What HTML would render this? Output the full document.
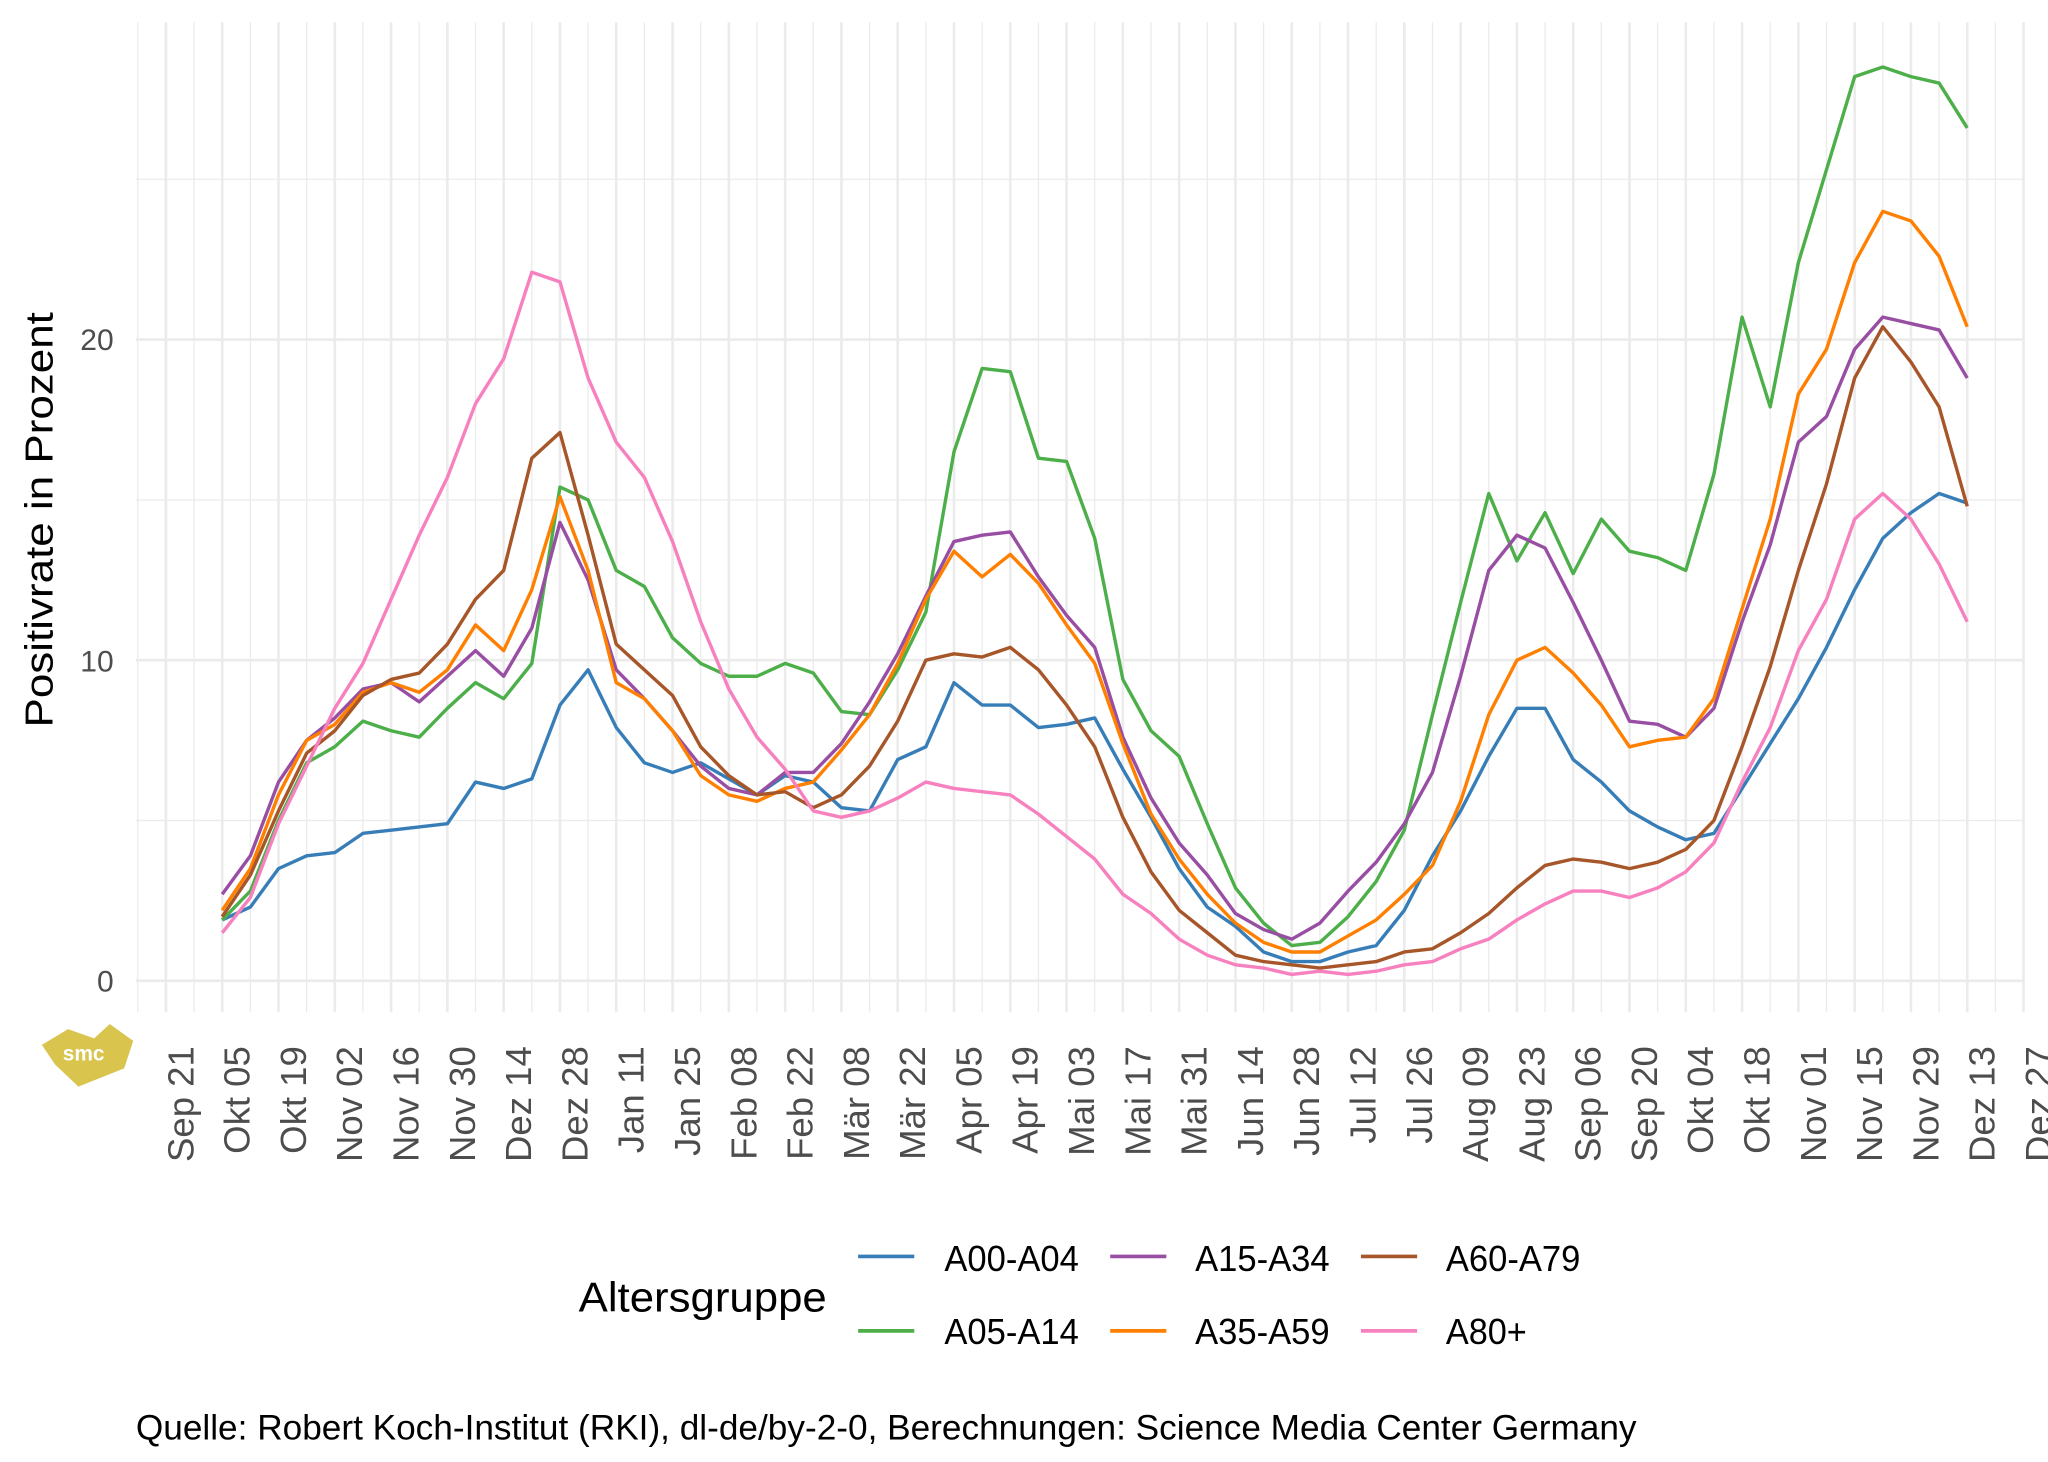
<!DOCTYPE html>
<html><head><meta charset="utf-8"><style>html,body{margin:0;padding:0;background:#fff}svg{display:block}</style></head>
<body>
<svg xmlns="http://www.w3.org/2000/svg" width="2048" height="1462" viewBox="0 0 1568 1119.4" font-family="Liberation Sans, sans-serif">
<rect width="1568" height="1119.4" fill="#fff"/>
<g stroke="#ebebeb">
<g stroke-width="1">
<line x1="104" y1="628.25" x2="1550" y2="628.25"/><line x1="104" y1="382.75" x2="1550" y2="382.75"/><line x1="104" y1="137.25" x2="1550" y2="137.25"/>
</g>
<g stroke-width="2">
<line x1="104" y1="751" x2="1550" y2="751"/><line x1="104" y1="505.5" x2="1550" y2="505.5"/><line x1="104" y1="260" x2="1550" y2="260"/>
</g>
<g transform="translate(127,0) scale(21.55,1)" stroke-width="1.3">
<path vector-effect="non-scaling-stroke" d="M-1,17V775M1,17V775M3,17V775M5,17V775M7,17V775M9,17V775M11,17V775M13,17V775M15,17V775M17,17V775M19,17V775M21,17V775M23,17V775M25,17V775M27,17V775M29,17V775M31,17V775M33,17V775M35,17V775M37,17V775M39,17V775M41,17V775M43,17V775M45,17V775M47,17V775M49,17V775M51,17V775M53,17V775M55,17V775M57,17V775M59,17V775M61,17V775M63,17V775M65,17V775"/>
</g>
<g transform="translate(127,0) scale(21.55,1)" stroke-width="2.6">
<path vector-effect="non-scaling-stroke" d="M0,17V775M2,17V775M4,17V775M6,17V775M8,17V775M10,17V775M12,17V775M14,17V775M16,17V775M18,17V775M20,17V775M22,17V775M24,17V775M26,17V775M28,17V775M30,17V775M32,17V775M34,17V775M36,17V775M38,17V775M40,17V775M42,17V775M44,17V775M46,17V775M48,17V775M50,17V775M52,17V775M54,17V775M56,17V775M58,17V775M60,17V775M62,17V775M64,17V775M66,17V775"/>
</g>
</g>
<g transform="translate(170.1,751) scale(21.55,-24.55)" fill="none" stroke-width="3.4" stroke-linejoin="round">
<polyline vector-effect="non-scaling-stroke" stroke="#377EB8" points="0,1.9 1,2.3 2,3.5 3,3.9 4,4.0 5,4.6 6,4.7 7,4.8 8,4.9 9,6.2 10,6.0 11,6.3 12,8.6 13,9.7 14,7.9 15,6.8 16,6.5 17,6.8 18,6.3 19,5.8 20,6.4 21,6.2 22,5.4 23,5.3 24,6.9 25,7.3 26,9.3 27,8.6 28,8.6 29,7.9 30,8.0 31,8.2 32,6.6 33,5.1 34,3.5 35,2.3 36,1.7 37,0.9 38,0.6 39,0.6 40,0.9 41,1.1 42,2.2 43,3.9 44,5.3 45,7.0 46,8.5 47,8.5 48,6.9 49,6.2 50,5.3 51,4.8 52,4.4 53,4.6 54,6.0 55,7.4 56,8.8 57,10.4 58,12.2 59,13.8 60,14.6 61,15.2 62,14.9"/>
<polyline vector-effect="non-scaling-stroke" stroke="#4DAF4A" points="0,1.9 1,2.8 2,5.0 3,6.8 4,7.3 5,8.1 6,7.8 7,7.6 8,8.5 9,9.3 10,8.8 11,9.9 12,15.4 13,15.0 14,12.8 15,12.3 16,10.7 17,9.9 18,9.5 19,9.5 20,9.9 21,9.6 22,8.4 23,8.3 24,9.7 25,11.5 26,16.5 27,19.1 28,19.0 29,16.3 30,16.2 31,13.8 32,9.4 33,7.8 34,7.0 35,4.9 36,2.9 37,1.8 38,1.1 39,1.2 40,2.0 41,3.1 42,4.7 43,8.3 44,11.8 45,15.2 46,13.1 47,14.6 48,12.7 49,14.4 50,13.4 51,13.2 52,12.8 53,15.8 54,20.7 55,17.9 56,22.4 57,25.3 58,28.2 59,28.5 60,28.2 61,28.0 62,26.6"/>
<polyline vector-effect="non-scaling-stroke" stroke="#984EA3" points="0,2.7 1,3.9 2,6.2 3,7.5 4,8.2 5,9.1 6,9.3 7,8.7 8,9.5 9,10.3 10,9.5 11,11.0 12,14.3 13,12.5 14,9.7 15,8.8 16,7.8 17,6.7 18,6.0 19,5.8 20,6.5 21,6.5 22,7.4 23,8.7 24,10.2 25,12.0 26,13.7 27,13.9 28,14.0 29,12.6 30,11.4 31,10.4 32,7.6 33,5.7 34,4.3 35,3.3 36,2.1 37,1.6 38,1.3 39,1.8 40,2.8 41,3.7 42,4.9 43,6.5 44,9.5 45,12.8 46,13.9 47,13.5 48,11.8 49,10.0 50,8.1 51,8.0 52,7.6 53,8.5 54,11.2 55,13.6 56,16.8 57,17.6 58,19.7 59,20.7 60,20.5 61,20.3 62,18.8"/>
<polyline vector-effect="non-scaling-stroke" stroke="#FF7F00" points="0,2.2 1,3.5 2,5.8 3,7.5 4,8.0 5,9.0 6,9.3 7,9.0 8,9.7 9,11.1 10,10.3 11,12.2 12,15.1 13,12.8 14,9.3 15,8.8 16,7.8 17,6.4 18,5.8 19,5.6 20,6.0 21,6.2 22,7.2 23,8.3 24,9.9 25,11.9 26,13.4 27,12.6 28,13.3 29,12.4 30,11.1 31,9.9 32,7.4 33,5.2 34,3.8 35,2.7 36,1.8 37,1.2 38,0.9 39,0.9 40,1.4 41,1.9 42,2.7 43,3.6 44,5.6 45,8.3 46,10.0 47,10.4 48,9.6 49,8.6 50,7.3 51,7.5 52,7.6 53,8.8 54,11.6 55,14.4 56,18.3 57,19.7 58,22.4 59,24.0 60,23.7 61,22.6 62,20.4"/>
<polyline vector-effect="non-scaling-stroke" stroke="#A65628" points="0,2.0 1,3.3 2,5.3 3,7.1 4,7.8 5,8.9 6,9.4 7,9.6 8,10.5 9,11.9 10,12.8 11,16.3 12,17.1 13,13.9 14,10.5 15,9.7 16,8.9 17,7.3 18,6.4 19,5.8 20,5.9 21,5.4 22,5.8 23,6.7 24,8.1 25,10.0 26,10.2 27,10.1 28,10.4 29,9.7 30,8.6 31,7.3 32,5.1 33,3.4 34,2.2 35,1.5 36,0.8 37,0.6 38,0.5 39,0.4 40,0.5 41,0.6 42,0.9 43,1.0 44,1.5 45,2.1 46,2.9 47,3.6 48,3.8 49,3.7 50,3.5 51,3.7 52,4.1 53,5.0 54,7.3 55,9.8 56,12.8 57,15.5 58,18.8 59,20.4 60,19.3 61,17.9 62,14.8"/>
<polyline vector-effect="non-scaling-stroke" stroke="#F781BF" points="0,1.5 1,2.6 2,4.9 3,6.7 4,8.5 5,9.9 6,11.9 7,13.9 8,15.7 9,18.0 10,19.4 11,22.1 12,21.8 13,18.8 14,16.8 15,15.7 16,13.7 17,11.2 18,9.1 19,7.6 20,6.6 21,5.3 22,5.1 23,5.3 24,5.7 25,6.2 26,6.0 27,5.9 28,5.8 29,5.2 30,4.5 31,3.8 32,2.7 33,2.1 34,1.3 35,0.8 36,0.5 37,0.4 38,0.2 39,0.3 40,0.2 41,0.3 42,0.5 43,0.6 44,1.0 45,1.3 46,1.9 47,2.4 48,2.8 49,2.8 50,2.6 51,2.9 52,3.4 53,4.3 54,6.2 55,7.9 56,10.3 57,11.9 58,14.4 59,15.2 60,14.4 61,13.0 62,11.2"/>
</g>
<g fill="#4d4d4d" font-size="23" text-anchor="end">
<text x="87" y="759">0</text><text x="87" y="514">10</text><text x="87" y="268">20</text>
</g>
<g fill="#4d4d4d" font-size="28" text-anchor="end">
<text transform="translate(148,801) rotate(-90)">Sep 21</text>
<text transform="translate(191.1,801) rotate(-90)">Okt 05</text>
<text transform="translate(234.2,801) rotate(-90)">Okt 19</text>
<text transform="translate(277.3,801) rotate(-90)">Nov 02</text>
<text transform="translate(320.4,801) rotate(-90)">Nov 16</text>
<text transform="translate(363.5,801) rotate(-90)">Nov 30</text>
<text transform="translate(406.6,801) rotate(-90)">Dez 14</text>
<text transform="translate(449.7,801) rotate(-90)">Dez 28</text>
<text transform="translate(492.8,801) rotate(-90)">Jan 11</text>
<text transform="translate(535.9,801) rotate(-90)">Jan 25</text>
<text transform="translate(579,801) rotate(-90)">Feb 08</text>
<text transform="translate(622.1,801) rotate(-90)">Feb 22</text>
<text transform="translate(665.2,801) rotate(-90)">Mär 08</text>
<text transform="translate(708.3,801) rotate(-90)">Mär 22</text>
<text transform="translate(751.4,801) rotate(-90)">Apr 05</text>
<text transform="translate(794.5,801) rotate(-90)">Apr 19</text>
<text transform="translate(837.6,801) rotate(-90)">Mai 03</text>
<text transform="translate(880.7,801) rotate(-90)">Mai 17</text>
<text transform="translate(923.8,801) rotate(-90)">Mai 31</text>
<text transform="translate(966.9,801) rotate(-90)">Jun 14</text>
<text transform="translate(1010,801) rotate(-90)">Jun 28</text>
<text transform="translate(1053.1,801) rotate(-90)">Jul 12</text>
<text transform="translate(1096.2,801) rotate(-90)">Jul 26</text>
<text transform="translate(1139.3,801) rotate(-90)">Aug 09</text>
<text transform="translate(1182.4,801) rotate(-90)">Aug 23</text>
<text transform="translate(1225.5,801) rotate(-90)">Sep 06</text>
<text transform="translate(1268.6,801) rotate(-90)">Sep 20</text>
<text transform="translate(1311.7,801) rotate(-90)">Okt 04</text>
<text transform="translate(1354.8,801) rotate(-90)">Okt 18</text>
<text transform="translate(1397.9,801) rotate(-90)">Nov 01</text>
<text transform="translate(1441,801) rotate(-90)">Nov 15</text>
<text transform="translate(1484.1,801) rotate(-90)">Nov 29</text>
<text transform="translate(1527.2,801) rotate(-90)">Dez 13</text>
<text transform="translate(1570.3,801) rotate(-90)">Dez 27</text>
</g>
<text transform="translate(40,398) rotate(-90)" font-size="30" text-anchor="middle" textLength="318" lengthAdjust="spacingAndGlyphs">Positivrate in Prozent</text>
<path d="M32,800 L52,788 L72,795 L84,784 L102,797 L95,818 L60,832 L42,815 Z" fill="#d9c44e"/>
<text x="64" y="812" font-size="16" fill="#fff" text-anchor="middle" font-weight="bold">smc</text>
<text x="443" y="1004" font-size="32" textLength="190" lengthAdjust="spacingAndGlyphs">Altersgruppe</text>
<g stroke-width="2.8">
<line x1="657" y1="962" x2="700" y2="962" stroke="#377EB8"/>
<line x1="850" y1="962" x2="893" y2="962" stroke="#984EA3"/>
<line x1="1042" y1="962" x2="1085" y2="962" stroke="#A65628"/>
<line x1="657" y1="1019" x2="700" y2="1019" stroke="#4DAF4A"/>
<line x1="850" y1="1019" x2="893" y2="1019" stroke="#FF7F00"/>
<line x1="1042" y1="1019" x2="1085" y2="1019" stroke="#F781BF"/>
</g>
<g font-size="28">
<text x="723" y="973" textLength="103" lengthAdjust="spacingAndGlyphs">A00-A04</text><text x="915" y="973" textLength="103" lengthAdjust="spacingAndGlyphs">A15-A34</text><text x="1107" y="973" textLength="103" lengthAdjust="spacingAndGlyphs">A60-A79</text>
<text x="723" y="1029" textLength="103" lengthAdjust="spacingAndGlyphs">A05-A14</text><text x="915" y="1029" textLength="103" lengthAdjust="spacingAndGlyphs">A35-A59</text><text x="1107" y="1029" textLength="62" lengthAdjust="spacingAndGlyphs">A80+</text>
</g>
<text x="104" y="1102" font-size="27" textLength="1149" lengthAdjust="spacingAndGlyphs">Quelle: Robert Koch-Institut (RKI), dl-de/by-2-0, Berechnungen: Science Media Center Germany</text>
</svg>
</body></html>
